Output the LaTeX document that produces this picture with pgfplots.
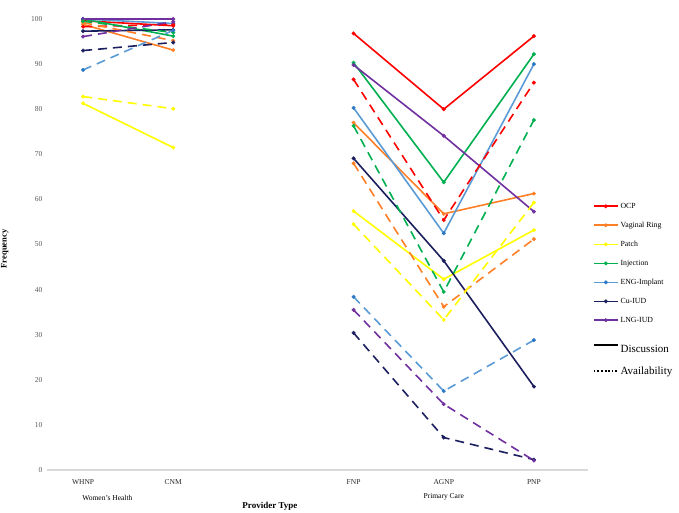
\documentclass[border=0pt]{standalone}
\usepackage{fontspec}
\setmainfont{Liberation Serif}
\usepackage{pgfplots}
\pgfplotsset{compat=1.18}
\definecolor{cOCP}{HTML}{FF0000}
\definecolor{cRing}{HTML}{FF7F27}
\definecolor{cPatch}{HTML}{FFFF00}
\definecolor{cInj}{HTML}{00B050}
\definecolor{cENG}{HTML}{5B9BD5}
\definecolor{cENGm}{HTML}{2A78C6}
\definecolor{cCu}{HTML}{1C1F5E}
\definecolor{cLNG}{HTML}{7030A0}
\definecolor{axgray}{HTML}{D9D9D9}
\definecolor{tickgray}{HTML}{595959}
\begin{document}
\begin{tikzpicture}
\useasboundingbox (0,0) rectangle (679pt,512pt);
\begin{axis}[
  at={(47pt,42pt)}, anchor=south west,
  scale only axis, width=541pt, height=451pt,
  xmin=-0.4, xmax=5.6, ymin=0, ymax=100,
  clip=false,
  unbounded coords=jump,
  axis y line*=left,
  axis x line*=bottom,
  x axis line style={draw=axgray, line width=1.3pt, -},
  y axis line style={draw=none},
  xtick={0,1,3,4,5},
  xticklabels={WHNP,CNM,FNP,AGNP,PNP},
  ytick={0,10,...,100},
  major tick length=0pt,
  /pgf/number format/assume math mode=true,
  xticklabel style={font=\fontsize{7.5}{9}\selectfont, text=black!85, yshift=-6pt},
  yticklabel style={font=\fontsize{7.5}{9}\selectfont, text=tickgray, xshift=-1pt},
  xlabel={Provider Type},
  xlabel style={font=\bfseries\fontsize{9}{10}\selectfont, at={(axis description cs:0.412,0)}, anchor=center, yshift=-36pt},
  ylabel={Frequency},
  ylabel style={font=\bfseries\fontsize{8.5}{10}\selectfont, at={(axis description cs:-0.078,0.49)}, anchor=center},
  legend cell align=left,
  legend style={at={(1.009,0.597)}, anchor=north west, draw=none, fill=none,
    font=\fontsize{7.8}{9}\selectfont, row sep=8.2pt, inner sep=0pt},
  legend image code/.code={\draw[mark repeat=2,mark phase=2,#1] plot coordinates {(0cm,0cm) (0.42cm,0cm) (0.84cm,0cm)};},
  every axis plot/.append style={line width=1.6pt, mark=*, mark size=1.8pt, mark options={solid, line width=0.4pt}},
]
% Discussion (solid)
\addplot[cOCP, solid, line width=1.6pt] coordinates {(0,99.6) (1,98.5) (2,nan) (3,96.8) (4,80.0) (5,96.2)};
\addlegendentry{OCP}
\addplot[cRing, solid, line width=1.6pt] coordinates {(0,98.8) (1,93.1) (2,nan) (3,77.0) (4,56.8) (5,61.3)};
\addlegendentry{Vaginal Ring}
\addplot[cPatch, solid, line width=1.6pt] coordinates {(0,81.3) (1,71.5) (2,nan) (3,57.4) (4,42.3) (5,53.2)};
\addlegendentry{Patch}
\addplot[cInj, solid, line width=1.6pt] coordinates {(0,100) (1,96.2) (2,nan) (3,90.3) (4,63.8) (5,92.2)};
\addlegendentry{Injection}
\addplot[cENG, solid, line width=1.6pt, mark options={fill=cENGm, draw=cENGm, solid, line width=0.4pt}] coordinates {(0,100) (1,99.0) (2,nan) (3,80.3) (4,52.5) (5,90.0)};
\addlegendentry{ENG-Implant}
\addplot[cCu, solid, line width=1.6pt] coordinates {(0,97.3) (1,97.6) (2,nan) (3,69.1) (4,46.4) (5,18.5)};
\addlegendentry{Cu-IUD}
\addplot[cLNG, solid, line width=1.6pt] coordinates {(0,100) (1,100) (2,nan) (3,89.8) (4,74.1) (5,57.3)};
\addlegendentry{LNG-IUD}
% Availability (dashed)
\addplot[cOCP, dash pattern=on 9pt off 6pt, forget plot] coordinates {(0,98.3) (1,98.8) (2,nan) (3,86.6) (4,55.4) (5,85.9)};
\addplot[cRing, dash pattern=on 9pt off 6pt, forget plot] coordinates {(0,99.2) (1,95.2) (2,nan) (3,68.0) (4,36.2) (5,51.2)};
\addplot[cPatch, dash pattern=on 9pt off 6pt, forget plot] coordinates {(0,82.8) (1,80.1) (2,nan) (3,54.5) (4,33.3) (5,59.3)};
\addplot[cInj, dash pattern=on 9pt off 6pt, forget plot] coordinates {(0,99.5) (1,97.0) (2,nan) (3,76.3) (4,39.5) (5,77.6)};
\addplot[cENG, dash pattern=on 9pt off 6pt, mark options={fill=cENGm, draw=cENGm, solid, line width=0.4pt}, forget plot] coordinates {(0,88.7) (1,97.5) (2,nan) (3,38.4) (4,17.5) (5,28.8)};
\addplot[cCu, dash pattern=on 9pt off 6pt, forget plot] coordinates {(0,93.0) (1,94.8) (2,nan) (3,30.4) (4,7.2) (5,2.3)};
\addplot[cLNG, dash pattern=on 9pt off 6pt, forget plot] coordinates {(0,96.1) (1,99.4) (2,nan) (3,35.5) (4,14.6) (5,2.1)};
% line-style legend entries
\addlegendimage{black, solid, line width=1.6pt, mark=none}
\addlegendentry{\rule{0pt}{17pt}\fontsize{11}{13}\selectfont Discussion}
\addlegendimage{black, dotted, line width=1.3pt, mark=none}
\addlegendentry{\fontsize{11}{13}\selectfont Availability}
% group labels
\node[font=\fontsize{7.5}{9}\selectfont] at (axis cs:0.27,0) [yshift=-28pt] {Women's Health};
\node[font=\fontsize{7.5}{9}\selectfont] at (axis cs:4,0) [yshift=-27pt] {Primary Care};
\end{axis}
\end{tikzpicture}
\end{document}
